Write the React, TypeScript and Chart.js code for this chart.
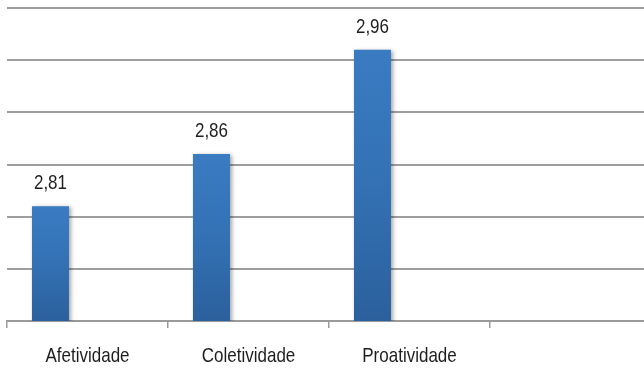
import React, { useEffect, useRef } from "react";
import { Chart, registerables } from "chart.js";

Chart.register(...registerables);

const categories = ["Afetividade", "Coletividade", "Proatividade", ""];
const seriesValues = [2.81, 2.86, 2.96, null];
const emptySeries = [null, null, null, null];
const yMin = 2.7;
const yMax = 3.0;
const yStep = 0.05;

const FONT = "'Liberation Sans', Arial, sans-serif";
const TEXT_SIZE = 21;
const TEXT_STRETCH = 0.81;
const TEXT_COLOR = "#1e1e1e";

// Narrow text: draw at a horizontal squeeze around its centre point
const drawNarrowText = (c: CanvasRenderingContext2D, text: string, x: number, y: number) => {
  c.save();
  c.translate(x, y);
  c.scale(TEXT_STRETCH, 1);
  c.font = `${TEXT_SIZE}px ${FONT}`;
  c.fillStyle = TEXT_COLOR;
  c.textAlign = "center";
  c.textBaseline = "alphabetic";
  c.fillText(text, 0, 0);
  c.restore();
};

const barFill = (ctx: any) => {
  const chart = ctx.chart;
  const area = chart.chartArea;
  const v = ctx.raw;
  if (!area || v == null) return "#3577bd";
  const top = chart.scales.y.getPixelForValue(v);
  const g = chart.ctx.createLinearGradient(0, top, 0, area.bottom);
  g.addColorStop(0, "#3a7bc1");
  g.addColorStop(0.5, "#3371b4");
  g.addColorStop(1, "#2b609d");
  return g;
};

const shadowPlugin = {
  id: "barShadow",
  beforeDatasetDraw(chart: any) {
    const c = chart.ctx;
    c.save();
    c.shadowColor = "rgba(0,0,0,0.35)";
    c.shadowBlur = 4;
    c.shadowOffsetX = 2;
    c.shadowOffsetY = 1;
  },
  afterDatasetDraw(chart: any) {
    chart.ctx.restore();
  },
};

const valueLabels = {
  id: "valueLabels",
  afterDatasetsDraw(chart: any) {
    const meta = chart.getDatasetMeta(0);
    meta.data.forEach((bar: any, i: number) => {
      const v = seriesValues[i];
      if (v == null) return;
      drawNarrowText(chart.ctx, v.toFixed(2).replace(".", ","), bar.x, bar.y - 17);
    });
  },
};

const categoryLabels = {
  id: "categoryLabels",
  afterDraw(chart: any) {
    const xs = chart.scales.x;
    categories.forEach((label, i) => {
      if (!label) return;
      drawNarrowText(chart.ctx, label, xs.getPixelForValue(i), chart.chartArea.bottom + 41);
    });
  },
};

export default function App() {
  const ref = useRef<HTMLCanvasElement>(null);

  useEffect(() => {
    if (!ref.current) return;
    const chart = new Chart(ref.current, {
      type: "bar",
      data: {
        labels: categories,
        datasets: [
          { data: seriesValues, backgroundColor: barFill as any },
          { data: emptySeries, backgroundColor: "#c0504d" },
          { data: emptySeries, backgroundColor: "#9bbb59" },
        ],
      },
      options: {
        animation: false,
        responsive: false,
        maintainAspectRatio: false,
        layout: { padding: { left: 7, right: 19, top: 8, bottom: 0 } },
        datasets: { bar: { categoryPercentage: 0.69, barPercentage: 1 } },
        plugins: {
          legend: { display: false },
          tooltip: { enabled: false },
        },
        scales: {
          x: {
            grid: {
              offset: true,
              drawOnChartArea: false,
              drawTicks: true,
              tickLength: 7,
              color: "#9a9a9a",
              lineWidth: 1.5,
            },
            border: { display: true, color: "#9a9a9a", width: 2 },
            ticks: { display: false },
            afterFit(scale: any) {
              scale.height = 47;
            },
          },
          y: {
            min: yMin,
            max: yMax,
            ticks: { display: false, stepSize: yStep },
            grid: { color: "#9e9e9e", lineWidth: 2, drawTicks: false },
            border: { display: false },
            afterFit(scale: any) {
              scale.width = 0;
            },
          },
        },
      },
      plugins: [shadowPlugin, valueLabels, categoryLabels],
    });
    return () => chart.destroy();
  }, []);

  return (
    <div
      style={{
        position: "fixed",
        left: 0,
        top: 0,
        width: 644,
        height: 368,
        overflow: "hidden",
        background: "#ffffff",
      }}
    >
      <canvas ref={ref} width={670} height={368} style={{ display: "block" }} />
    </div>
  );
}
